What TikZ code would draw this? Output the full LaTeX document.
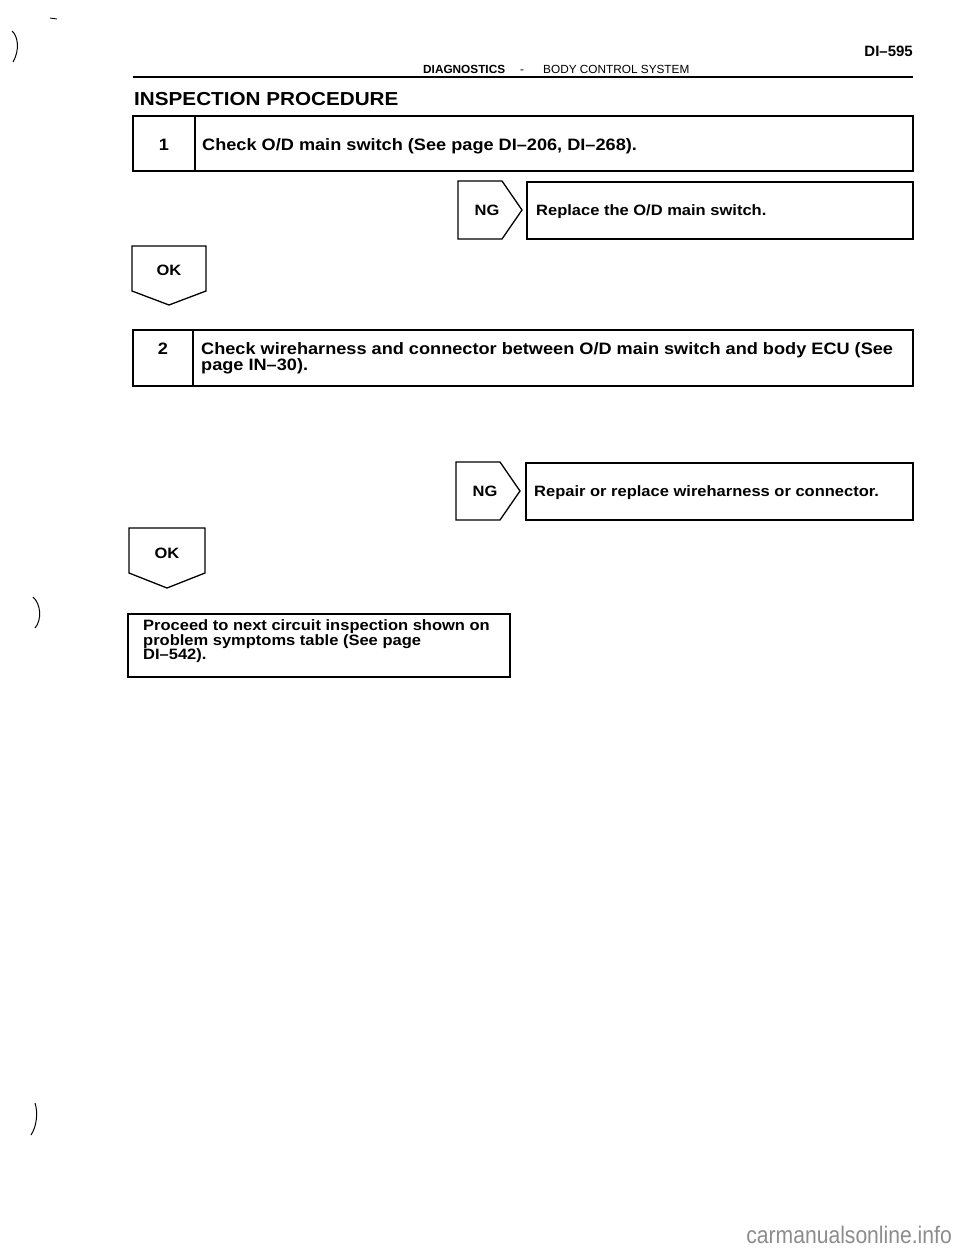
\documentclass[tikz,border=0pt]{standalone}
\usepackage{fontspec}
\setmainfont[Ligatures=TeX]{Liberation Sans}
\newfontfamily\manualfont[Ligatures=TeX,FakeStretch=1.1]{Liberation Sans}
\newfontfamily\markfont[FakeStretch=0.88]{Liberation Sans}

\begin{document}
\begin{tikzpicture}[x=1pt,y=-1pt,
  frame/.style={draw=black,line width=1.3pt},
  scan/.style={draw=black,line width=1pt},
  steptxt/.style={anchor=base west,inner sep=0pt,font=\manualfont\bfseries\fontsize{16.5}{17}\selectfont},
  numtxt/.style={anchor=base,inner sep=0pt,font=\manualfont\bfseries\fontsize{16.5}{17}\selectfont},
  tagtxt/.style={anchor=base,inner sep=0pt,font=\manualfont\bfseries\fontsize{15}{15}\selectfont},
  fixtxt/.style={anchor=base west,inner sep=0pt,font=\manualfont\bfseries\fontsize{15}{15}\selectfont}]
\useasboundingbox (0,0) rectangle (960,1250);
\draw[line width=.9pt] (50,18) -- (57,19);
\draw[scan] (12,31) .. controls (18,36) and (20,50) .. (13,62);
\draw[scan] (33,597) .. controls (41,604) and (42,620) .. (35,628);
\draw[scan] (35,1103) .. controls (38,1112) and (37,1126) .. (31,1135);
\node[anchor=base east,inner sep=0pt,font=\bfseries\fontsize{15}{15}\selectfont] (pageno) at (913,56) {DI--595};
\node[anchor=base west,inner sep=0pt,font=\bfseries\fontsize{11.8}{12}\selectfont] (sect) at (423,73) {DIAGNOSTICS};
\node[anchor=base,inner sep=0pt,font=\fontsize{11.8}{12}\selectfont] (dash) at (522,73) {-};
\node[anchor=base west,inner sep=0pt,font=\fontsize{11.8}{12}\selectfont] (subsect) at (543,73) {BODY CONTROL SYSTEM};
\draw[line width=1.3pt] (133,77) -- (913,77);
\node[anchor=base west,inner sep=0pt,font=\manualfont\bfseries\fontsize{18.8}{19}\selectfont] (title) at (134,105) {INSPECTION PROCEDURE};
\draw[frame] (133,116) rectangle (913,171);
\draw[frame] (195,116) -- (195,171);
\node[numtxt] (n1) at (164,150) {1};
\node[steptxt] (s1) at (202,150) {Check O/D main switch (See page DI--206, DI--268).};
\draw[frame] (458,181) -- (502,181) -- (522,210) -- (502,239) -- (458,239) -- cycle;
\node[tagtxt] (ng1) at (487,215) {NG};
\draw[frame] (527,182) rectangle (913,239);
\node[fixtxt] (fix1) at (536,215) {Replace the O/D main switch.};
\draw[frame] (132,246) -- (206,246) -- (206,291) -- (169,305) -- (132,291) -- cycle;
\node[tagtxt] (ok1) at (169,275) {OK};
\draw[frame] (133,330) rectangle (913,386);
\draw[frame] (193,330) -- (193,386);
\node[numtxt] (n2) at (163,354) {2};
\node[steptxt] (s2a) at (201,354) {Check wireharness and connector between O/D main switch and body ECU (See};
\node[steptxt] (s2b) at (201,370) {page IN--30).};
\draw[frame] (456,462) -- (500,462) -- (520,491) -- (500,520) -- (456,520) -- cycle;
\node[tagtxt] (ng2) at (485,496) {NG};
\draw[frame] (526,463) rectangle (913,520);
\node[fixtxt] (fix2) at (534,496) {Repair or replace wireharness or connector.};
\draw[frame] (129,528) -- (205,528) -- (205,573) -- (167,588) -- (129,573) -- cycle;
\node[tagtxt] (ok2) at (167,558) {OK};
\draw[frame] (128,614) rectangle (510,677);
\node[fixtxt] (nexta) at (143,630) {Proceed to next circuit inspection shown on};
\node[fixtxt] (nextb) at (143,645) {problem symptoms table (See page};
\node[fixtxt] (nextc) at (143,659) {DI--542).};
\node[anchor=base east,inner sep=0pt,text=black!45,font=\markfont\fontsize{24}{24}\selectfont] (mark) at (952,1243) {carmanualsonline.info};
\end{tikzpicture}
\end{document}
